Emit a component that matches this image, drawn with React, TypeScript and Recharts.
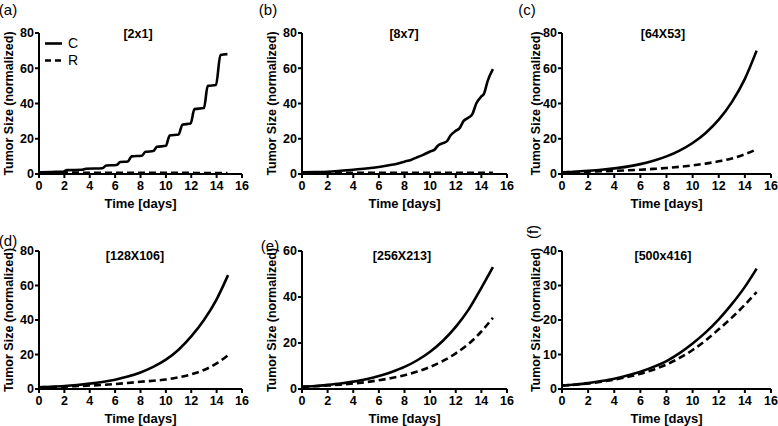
import React from 'react';
import { LineChart, Line, XAxis, YAxis, Label, Legend } from 'recharts';

const FONT = '"Liberation Sans", Arial, Helvetica, sans-serif';

// ---------- tick labels ----------
const X_TICKS = [0, 2, 4, 6, 8, 10, 12, 14, 16];
const Y_TICKS_80 = [0, 20, 40, 60, 80];
const Y_TICKS_60 = [0, 20, 40, 60];
const Y_TICKS_40 = [0, 10, 20, 30, 40];

// ---------- panel titles ----------
const TITLES = ['[2x1]', '[8x7]', '[64X53]', '[128X106]', '[256X213]', '[500x416]'];
const LETTERS = ['(a)', '(b)', '(c)', '(d)', '(e)', '(f)'];
const SERIES_NAMES = ['C', 'R'];

// ---------- panel (a) ----------
const tA = [0, 1, 1.9, 2.2, 3.4, 3.7, 5.0, 5.3, 6.1, 6.4, 7.0, 7.3, 8.1, 8.4, 9.0, 9.3, 10.0, 10.3, 11.0, 11.3, 11.95, 12.25, 13.0, 13.3, 13.95, 14.3, 14.85];
const cA = [1.0, 1.15, 1.3, 2.2, 2.4, 3.0, 3.3, 4.8, 5.1, 6.8, 7.1, 10.0, 10.4, 12.6, 13.0, 15.4, 16.0, 21.8, 22.4, 28.0, 28.6, 36.8, 37.4, 50.0, 50.5, 67.5, 68.0];
const rA = [1.0, 0.9, 0.8, 0.8, 0.75, 0.75, 0.7, 0.7, 0.7, 0.7, 0.7, 0.7, 0.7, 0.7, 0.7, 0.7, 0.7, 0.7, 0.7, 0.65, 0.65, 0.6, 0.6, 0.6, 0.55, 0.5, 0.5];

// ---------- panel (b) ----------
const tB = [0, 1, 2, 3, 4, 5, 6, 7, 7.5, 8, 8.5, 9, 9.5, 10, 10.3, 10.6, 11, 11.3, 11.6, 12, 12.3, 12.6, 13, 13.3, 13.6, 14, 14.2, 14.5, 14.9];
const cB = [1.0, 1.1, 1.3, 1.8, 2.4, 3.1, 4.0, 5.2, 6.0, 7.0, 8.0, 9.5, 11.0, 12.8, 13.5, 16.0, 17.5, 18.5, 22.0, 24.5, 26.0, 30.0, 32.0, 34.0, 40.0, 44.0, 45.5, 53.0, 59.5];
const rB = [1.0, 0.9, 0.8, 0.7, 0.7, 0.7, 0.7, 0.7, 0.7, 0.7, 0.7, 0.7, 0.7, 0.7, 0.7, 0.7, 0.7, 0.7, 0.7, 0.7, 0.7, 0.7, 0.7, 0.7, 0.7, 0.7, 0.7, 0.7, 0.7];

// ---------- panels (c)-(f) share a day grid ----------
const tS = [0, 1, 2, 3, 4, 5, 6, 7, 8, 9, 10, 11, 12, 13, 14, 14.9];
const cC = [1, 1.3, 1.8, 2.4, 3.2, 4.2, 5.6, 7.5, 10, 13.3, 17.6, 23.3, 30.8, 40.8, 54, 70];
const rC = [1, 1.15, 1.35, 1.55, 1.8, 2.1, 2.45, 2.9, 3.4, 4.1, 4.9, 5.9, 7.2, 8.8, 11.2, 14];
const cD = [1, 1.3, 1.7, 2.3, 3.1, 4.1, 5.4, 7.2, 9.6, 12.8, 17, 22.8, 30.5, 40, 52, 66];
const rD = [1, 1.2, 1.4, 1.7, 2.0, 2.4, 2.9, 3.5, 4.2, 4.8, 5.5, 6.8, 8.5, 11, 14.8, 19.5];
const cE = [1, 1.3, 1.8, 2.4, 3.2, 4.2, 5.6, 7.4, 9.6, 12.5, 16.2, 21, 27, 34.5, 44, 53];
const rE = [1, 1.2, 1.5, 1.9, 2.4, 3.0, 3.8, 4.8, 6.0, 7.6, 9.6, 12.2, 15.5, 19.6, 25, 31];
const cF = [1, 1.3, 1.7, 2.3, 3.0, 3.9, 5.0, 6.4, 8.1, 10.4, 13.2, 16.4, 20.2, 24.6, 29.6, 34.9];
const rF = [1, 1.25, 1.6, 2.1, 2.7, 3.5, 4.4, 5.6, 7.1, 9.0, 11.3, 14.1, 17.3, 20.7, 24.4, 28.1];

type Row = { t: number; c: number; r: number };
const zip = (t: number[], c: number[], r: number[]): Row[] =>
  t.map((v, i) => ({ t: v, c: c[i], r: r[i] }));

type Cfg = {
  left: number; top: number; width: number; height: number;
  mt: number; mr: number; yw: number; xh: number;
  yMax: number; yTicks: number[];
  rows: Row[]; title: string; titleX: number; titleY: number;
  letter: string; letterX: number; letterY: number; letterRot?: boolean;
  yLabDist: number; legend?: boolean;
};

const PANELS: Cfg[] = [
  { left: 0, top: 0, width: 260, height: 213, mt: 33, mr: 18, yw: 39, xh: 39, yMax: 80, yTicks: Y_TICKS_80,
    rows: zip(tA, cA, rA), title: TITLES[0], titleX: 138, titleY: 34, letter: LETTERS[0], letterX: 8, letterY: 10, yLabDist: 30, legend: true },
  { left: 260, top: 0, width: 258, height: 213, mt: 33, mr: 11, yw: 42, xh: 39, yMax: 80, yTicks: Y_TICKS_80,
    rows: zip(tB, cB, rB), title: TITLES[1], titleX: 144, titleY: 34, letter: LETTERS[1], letterX: 8, letterY: 10, yLabDist: 30 },
  { left: 518, top: 0, width: 260, height: 213, mt: 33, mr: 7, yw: 44, xh: 39, yMax: 80, yTicks: Y_TICKS_80,
    rows: zip(tS, cC, rC), title: TITLES[2], titleX: 145, titleY: 34, letter: LETTERS[2], letterX: 9, letterY: 10, yLabDist: 26 },
  { left: 0, top: 213, width: 260, height: 213, mt: 38, mr: 18, yw: 39, xh: 37, yMax: 80, yTicks: Y_TICKS_80,
    rows: zip(tS, cD, rD), title: TITLES[3], titleX: 135, titleY: 43, letter: LETTERS[3], letterX: 8, letterY: 28, yLabDist: 30 },
  { left: 260, top: 213, width: 258, height: 213, mt: 38, mr: 11, yw: 42, xh: 37, yMax: 60, yTicks: Y_TICKS_60,
    rows: zip(tS, cE, rE), title: TITLES[4], titleX: 142, titleY: 43, letter: LETTERS[4], letterX: 10, letterY: 33, yLabDist: 30 },
  { left: 518, top: 213, width: 260, height: 213, mt: 38, mr: 7, yw: 44, xh: 37, yMax: 40, yTicks: Y_TICKS_40,
    rows: zip(tS, cF, rF), title: TITLES[5], titleX: 145, titleY: 43, letter: LETTERS[5], letterX: 15, letterY: 19, letterRot: true, yLabDist: 26 },
];

const tickStyle = { fill: '#000', fontSize: 12.5, fontWeight: 700, fontFamily: FONT };

const LegendBox = () => (
  <div style={{ fontFamily: FONT, fontSize: 14, color: '#000', lineHeight: '17px' }}>
    {SERIES_NAMES.map((n, i) => (
      <div key={n} style={{ display: 'flex', alignItems: 'center', height: 17 }}>
        <svg width={24} height={17}>
          <line x1={1} x2={18} y1={8.5} y2={8.5} stroke="#000" strokeWidth={2.6} strokeDasharray={i === 1 ? '6 4' : undefined} />
        </svg>
        <span>{n}</span>
      </div>
    ))}
  </div>
);

function Panel({ cfg }: { cfg: Cfg }) {
  return (
    <div style={{ position: 'absolute', left: cfg.left, top: cfg.top, width: cfg.width, height: cfg.height }}>
      <LineChart width={cfg.width} height={cfg.height} data={cfg.rows}
        margin={{ top: cfg.mt, right: cfg.mr, bottom: 0, left: 0 }}>
        <XAxis dataKey="t" type="number" domain={[0, 16]} ticks={X_TICKS} interval={0}
          axisLine={{ stroke: '#000', strokeWidth: 2 }} tickLine={{ stroke: '#000', strokeWidth: 2 }}
          tickSize={4} tickMargin={3} tick={tickStyle} height={cfg.xh}>
          <Label content={(p: any) => {
            const vb = p.viewBox || {};
            return (
              <text x={vb.x + vb.width / 2} y={vb.y + 29} textAnchor="middle" dominantBaseline="central"
                fontFamily={FONT} fontSize={13} fontWeight={700} fill="#000">Time [days]</text>
            );
          }} />
        </XAxis>
        <YAxis type="number" domain={[0, cfg.yMax]} ticks={cfg.yTicks} interval={0} width={cfg.yw}
          axisLine={{ stroke: '#000', strokeWidth: 2 }} tickLine={{ stroke: '#000', strokeWidth: 2 }}
          tickSize={4} tickMargin={1} tick={tickStyle} allowDataOverflow>
          <Label content={(p: any) => {
            const vb = p.viewBox || {};
            const x = vb.x + vb.width - cfg.yLabDist;
            const y = vb.y + vb.height / 2;
            return (
              <text x={x} y={y} transform={`rotate(-90 ${x} ${y})`} textAnchor="middle" dominantBaseline="central"
                fontFamily={FONT} fontSize={12.5} fontWeight={700} fill="#000">Tumor Size (normalized)</text>
            );
          }} />
        </YAxis>
        <Line dataKey="c" name={SERIES_NAMES[0]} type="monotone" stroke="#000" strokeWidth={2.6} dot={false} isAnimationActive={false} />
        <Line dataKey="r" name={SERIES_NAMES[1]} type="monotone" stroke="#000" strokeWidth={2.6} strokeDasharray="7 4" dot={false} isAnimationActive={false} />
        {cfg.legend && (
          <Legend layout="vertical" align="center" verticalAlign="middle"
            wrapperStyle={{ left: 44, top: 35, width: 50 }} content={() => <LegendBox />} />
        )}
      </LineChart>
      <div style={{ position: 'absolute', left: cfg.titleX, top: cfg.titleY, transform: 'translate(-50%, -50%)',
        fontFamily: FONT, fontSize: 12.5, fontWeight: 700, color: '#000', whiteSpace: 'nowrap' }}>{cfg.title}</div>
      <div style={{ position: 'absolute', left: cfg.letterX, top: cfg.letterY,
        transform: `translate(-50%, -50%)${cfg.letterRot ? ' rotate(-90deg)' : ''}`,
        fontFamily: FONT, fontSize: 15, color: '#000', whiteSpace: 'nowrap', lineHeight: 1.1 }}>{cfg.letter}</div>
    </div>
  );
}

export default function App() {
  return (
    <div style={{ position: 'absolute', left: 0, top: 0, width: 778, height: 426, background: '#fff', overflow: 'hidden' }}>
      {PANELS.map((p, i) => <Panel key={i} cfg={p} />)}
    </div>
  );
}
